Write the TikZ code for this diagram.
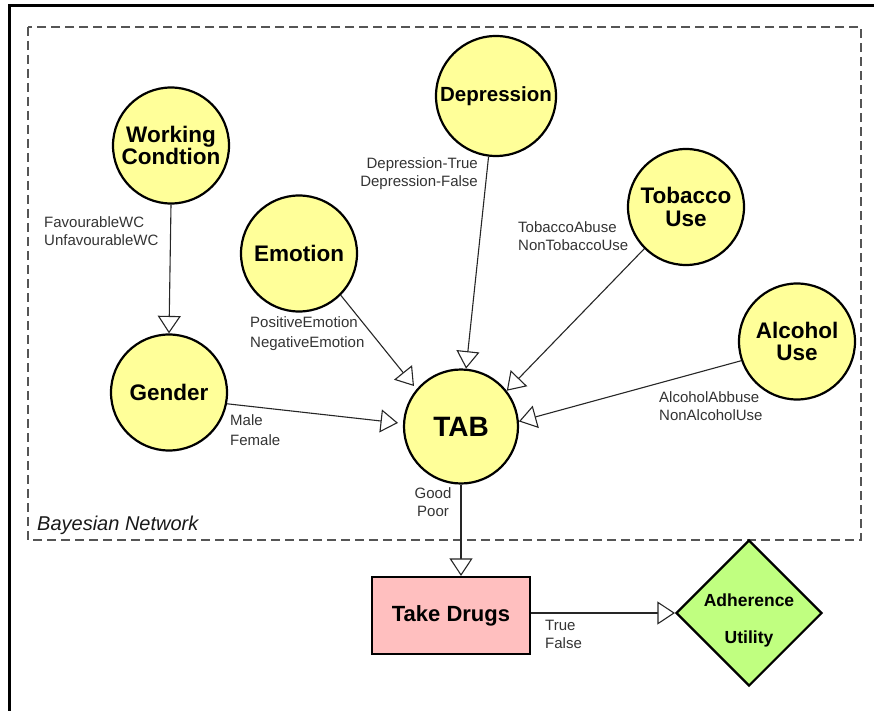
\documentclass[tikz,border=0pt]{standalone}
\usepackage{fontspec}
\setmainfont{Liberation Sans}
\usetikzlibrary{arrows.meta,shapes.geometric}

\definecolor{chanceyellow}{RGB}{255,255,153}
\definecolor{decisionpink}{RGB}{255,191,191}
\definecolor{utilitygreen}{RGB}{192,255,128}
\definecolor{stategray}{RGB}{51,51,51}
\definecolor{groupgray}{RGB}{85,85,85}

% two-line state lists; the box baseline is the first line's baseline
\newcommand\stateL[2]{\vtop{\halign{##\hfil\cr#1\cr#2\cr}}}
\newcommand\stateR[2]{\vtop{\halign{\hfil##\cr#1\cr#2\cr}}}
\newcommand\stateC[2]{\vtop{\halign{\hfil##\hfil\cr#1\cr#2\cr}}}

\tikzset{
  chance/.style={circle, draw=black, line width=2.2pt, fill=chanceyellow,
    minimum size=116pt, inner sep=0pt, align=center,
    font=\fontsize{22.5}{22.5}\selectfont\bfseries},
  decision/.style={rectangle, draw=black, line width=2.2pt, fill=decisionpink,
    minimum width=158pt, minimum height=77pt, inner sep=0pt,
    font=\fontsize{22}{22}\selectfont\bfseries},
  utility/.style={diamond, draw=black, line width=2.2pt, fill=utilitygreen,
    minimum width=146pt, minimum height=146pt, inner sep=0pt},
  utilitytext/.style={inner sep=0pt, font=\fontsize{17.5}{37}\selectfont\bfseries},
  states/.style={inner sep=0pt, text=stategray,
    font=\fontsize{15}{18.5}\selectfont},
  link/.style={draw=black!85, line width=1.1pt, line join=miter,
    -{Triangle[length=17.5pt,width=23pt,fill=white]}},
}

\begin{document}
\begin{tikzpicture}[x=1pt,y=-1pt]
  \useasboundingbox (0,0) rectangle (874,711);

  % page frame (top and left edges)
  \draw[line width=3pt] (874,6) -- (9,6) -- (9,711);

  % Bayesian network group
  \draw[groupgray, line width=1.2pt, dash pattern=on 9pt off 5pt]
    (28,27) rectangle (861,540);
  \node[anchor=base west, inner sep=0pt, text=black!90,
        font=\fontsize{20}{20}\selectfont\itshape] (bn) at (37,530) {Bayesian Network};

  % chance nodes
  \node[chance] (wc)  at (171,145.5) {Working\\Condtion};
  \node[chance, minimum size=120pt, font=\fontsize{20.5}{20.5}\selectfont\bfseries]
        (dep) at (496,96) {Depression};
  \node[chance] (tob) at (686,207) {Tobacco\\Use};
  \node[chance] (emo) at (299,253.5) {Emotion};
  \node[chance] (alc) at (797,341.5) {Alcohol\\Use};
  \node[chance] (gen) at (169,392.5) {Gender};
  \node[chance, minimum size=114pt, font=\fontsize{28}{28}\selectfont\bfseries]
        (tab) at (461,426.5) {TAB};

  % decision and utility
  \node[decision] (drugs) at (451,615.5) {Take Drugs};
  \node[utility]  (adh)   at (749,613) {};
  \node[utilitytext, anchor=base] (adhT) at (749,606) {\stateC{Adherence}{Utility}};

  % state labels
  \node[states, anchor=base west] (wcS)  at (44,227)   {\stateL{FavourableWC}{UnfavourableWC}};
  \node[states, anchor=base east] (depS) at (478,168.5) {\stateR{Depression-True}{Depression-False}};
  \node[states, anchor=base west] (tobS) at (518,232)   {\stateL{TobaccoAbuse}{NonTobaccoUse}};
  \node[states, anchor=base west, font=\fontsize{15}{20}\selectfont]
        (emoS) at (250,327) {\stateL{PositiveEmotion}{NegativeEmotion}};
  \node[states, anchor=base west, font=\fontsize{15}{20}\selectfont]
        (genS) at (230,425) {\stateL{Male}{Female}};
  \node[states, anchor=base west] (alcS) at (659,402)   {\stateL{AlcoholAbbuse}{NonAlcoholUse}};
  \node[states, anchor=base]      (tabS) at (433,498)   {\stateC{Good}{Poor}};
  \node[states, anchor=base west] (drugsS) at (545,630) {\stateL{True}{False}};

  % links
  \draw[link] (wc.south) -- (gen.north);
  \draw[link, shorten >=4pt] (emo.-45) -- (tab.140);
  \draw[link] (dep.263) -- (tab.85);
  \draw[link] (tob.225) -- (tab.38);
  \draw[link] (alc.199) -- (tab.5);
  \draw[link, shorten >=5pt] (gen.-11) -- (tab.177);
  \draw[link] (tab.south) -- (tab.south |- drugs.north);
  \draw[link] (drugs.east |- adh.west) -- (adh.west);
\end{tikzpicture}
\end{document}
